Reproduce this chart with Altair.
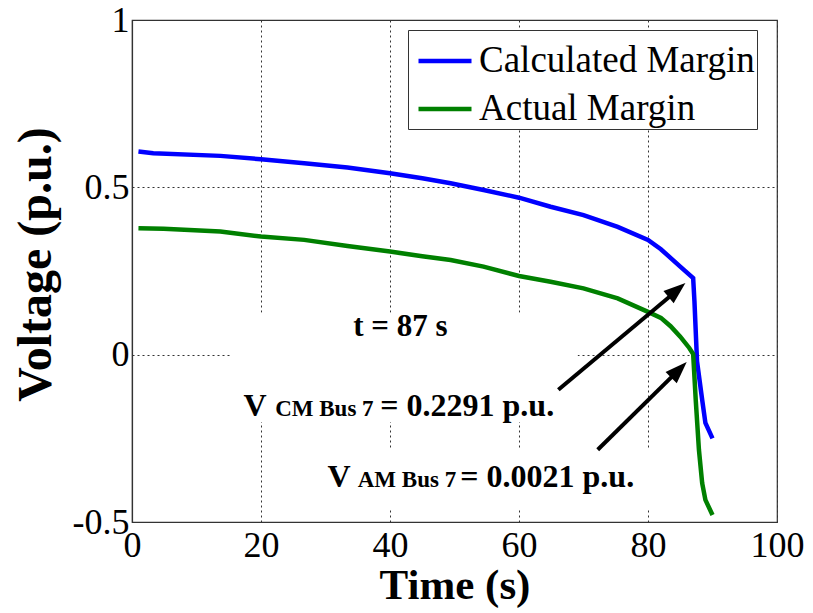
import altair as alt
import pandas as pd

# ---- data ----
series_names = ["Calculated Margin", "Actual Margin"]
series_colors = ["#0000FF", "#008000"]

time_cm = [1, 3.3, 13.7, 20, 26.7, 33.4, 40, 45, 49.4, 54.5, 60, 64.9, 70, 75.3,
           80, 82, 85, 87, 87.2, 87.6, 88.4, 88.9, 90]
volt_cm = [0.607, 0.602, 0.594, 0.584, 0.572, 0.559, 0.542, 0.527, 0.512, 0.492,
           0.469, 0.442, 0.417, 0.382, 0.343, 0.315, 0.263, 0.2291, 0.16, -0.02,
           -0.135, -0.204, -0.25]

time_am = [1, 4.9, 13.7, 20, 26.7, 33.4, 40, 45, 49.4, 54.5, 60, 64.9, 70, 75.3,
           80, 82, 83.5, 85, 86.4, 87, 87.4, 87.9, 88.4, 88.9, 90]
volt_am = [0.378, 0.376, 0.368, 0.353, 0.343, 0.325, 0.308, 0.294, 0.283, 0.263,
           0.235, 0.218, 0.198, 0.168, 0.128, 0.11, 0.085, 0.054, 0.02, 0.0021,
           -0.135, -0.285, -0.384, -0.434, -0.479]

x_ticks = [0, 20, 40, 60, 80, 100]
y_ticks = [-0.5, 0, 0.5, 1]

# annotation texts (big bold parts and small subscript parts)
big_text = ["t = 87 s", "V", "= 0.2291 p.u.", "V", "= 0.0021 p.u."]
big_t = [34.3, 17.3, 38.5, 30.3, 50.9]
big_v = [0.056, -0.183, -0.183, -0.395, -0.395]
big_size = [31, 32, 32, 32, 32]

small_text = ["CM Bus 7", "AM Bus 7"]
small_t = [22.2, 35.0]
small_v = [-0.183, -0.395]

# white boxes behind the annotations
box_t1 = [15.3, 28.4]
box_t2 = [69.1, 83.5]
box_v1 = [0.125, -0.279]
box_v2 = [-0.201, -0.458]

# arrows: tail, shaft end, tip, direction (deg clockwise from up)
arrow_tail_t = [66.1, 72.2]
arrow_tail_v = [-0.105, -0.284]
arrow_end_t = [84.4, 84.7]
arrow_end_v = [0.190, -0.047]
arrow_tip_t = [85.8, 86.0]
arrow_tip_v = [0.214, -0.022]
arrow_angle = [50, 45]

FONT = "Liberation Serif"

df = pd.concat([
    pd.DataFrame({"t": time_cm, "v": volt_cm, "series": series_names[0],
                  "o": range(len(time_cm))}),
    pd.DataFrame({"t": time_am, "v": volt_am, "series": series_names[1],
                  "o": range(len(time_am))}),
], ignore_index=True)

big_df = pd.DataFrame({"t": big_t, "v": big_v, "text": big_text, "size": big_size})
small_df = pd.DataFrame({"t": small_t, "v": small_v, "text": small_text})
box_df = pd.DataFrame({"t1": box_t1, "t2": box_t2, "v1": box_v1, "v2": box_v2})
arrow_df = pd.DataFrame({"t0": arrow_tail_t, "v0": arrow_tail_v,
                         "t1": arrow_end_t, "v1": arrow_end_v,
                         "tt": arrow_tip_t, "vt": arrow_tip_v,
                         "ang": arrow_angle})

x_scale = alt.Scale(domain=[0, 100], nice=False)
y_scale = alt.Scale(domain=[-0.5, 1], nice=False)

x_axis = alt.Axis(values=x_ticks, grid=True, gridDash=[2, 3], gridColor="#333333",
                  gridWidth=1, ticks=False, domainColor="#333333", domainWidth=1.2,
                  labelFont=FONT, labelFontSize=36, labelColor="black",
                  labelPadding=6, labelFlush=False,
                  title="Time (s)", titleFont=FONT, titleFontSize=43,
                  titleFontWeight="bold", titleColor="black",
                  titleY=76, titleBaseline="alphabetic")
y_axis = alt.Axis(values=y_ticks, grid=True, gridDash=[2, 3], gridColor="#333333",
                  gridWidth=1, ticks=False, domainColor="#333333", domainWidth=1.2,
                  labelFont=FONT, labelFontSize=36, labelColor="black",
                  labelPadding=3, labelFlush=False, labelExpr="datum.value + ''",
                  title="Voltage (p.u.)", titleFont=FONT, titleFontSize=48,
                  titleFontWeight="bold", titleColor="black",
                  titleAngle=270, titleX=-82, titleY=244,
                  titleBaseline="alphabetic", titleAlign="center")

boxes = alt.Chart(box_df).mark_rect(color="white").encode(
    x=alt.X("t1:Q", scale=x_scale, axis=x_axis),
    x2="t2:Q",
    y=alt.Y("v1:Q", scale=y_scale, axis=y_axis),
    y2="v2:Q",
)

lines = alt.Chart(df).mark_line(strokeWidth=4.5).encode(
    x=alt.X("t:Q", scale=x_scale),
    y=alt.Y("v:Q", scale=y_scale),
    color=alt.Color("series:N",
                    scale=alt.Scale(domain=series_names, range=series_colors),
                    sort=series_names,
                    legend=alt.Legend(title=None, orient="none",
                                      legendX=276, legendY=10,
                                      fillColor="white", strokeColor="#333333",
                                      padding=2, symbolOffset=6,
                                      symbolType="stroke",
                                      symbolSize=2809, symbolStrokeWidth=4.5,
                                      labelFont=FONT, labelFontSize=37,
                                      labelColor="black", labelOffset=5,
                                      rowPadding=1, labelLimit=500)),
    order="o:Q",
)

shafts = alt.Chart(arrow_df).mark_rule(color="black", strokeWidth=4).encode(
    x=alt.X("t0:Q", scale=x_scale), y=alt.Y("v0:Q", scale=y_scale),
    x2="t1:Q", y2="v1:Q",
)

heads = alt.Chart(arrow_df).mark_point(
    shape="M0,0L-0.36,1L0.36,1Z", filled=True, color="black", opacity=1,
    size=1936, strokeWidth=0,
).encode(
    x=alt.X("tt:Q", scale=x_scale), y=alt.Y("vt:Q", scale=y_scale),
    angle=alt.Angle("ang:Q", scale=None),
)

big_texts = alt.Chart(big_df).mark_text(
    font=FONT, fontWeight="bold", color="black", align="left",
    baseline="alphabetic",
).encode(
    x=alt.X("t:Q", scale=x_scale), y=alt.Y("v:Q", scale=y_scale),
    text="text:N", size=alt.Size("size:Q", scale=None, legend=None),
)

small_texts = alt.Chart(small_df).mark_text(
    font=FONT, fontWeight="bold", color="black", align="left",
    baseline="alphabetic", fontSize=23,
).encode(
    x=alt.X("t:Q", scale=x_scale), y=alt.Y("v:Q", scale=y_scale),
    text="text:N",
)

chart = alt.layer(boxes, lines, shafts, heads, big_texts, small_texts).properties(
    width=645, height=502,
    padding={"left": 132, "top": 20, "right": 36, "bottom": 91},
    autosize=alt.AutoSizeParams(type="none"),
    background="white",
).configure_view(stroke="#333333", strokeWidth=1.2)

chart.save("out.html", embed_options={"renderer": "svg", "actions": False})
